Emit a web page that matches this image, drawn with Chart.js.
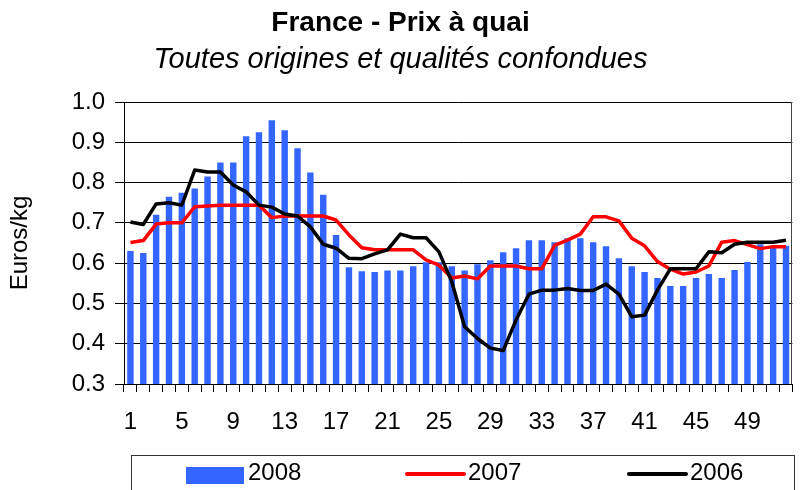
<!DOCTYPE html>
<html>
<head>
<meta charset="utf-8">
<script src="https://cdn.jsdelivr.net/npm/chart.js@4.4.1/dist/chart.umd.min.js"></script>
<style>
  body { margin: 0; background: #fff; }
  canvas { display: block; }
</style>
</head>
<body>
<canvas id="prixChart" width="802" height="490"></canvas>
<script>
const weeks = Array.from({ length: 52 }, (_, i) => i + 1);

const prix2008 = [0.63, 0.625, 0.72, 0.765, 0.775, 0.785, 0.815, 0.85, 0.85, 0.915,
    0.925, 0.955, 0.93, 0.885, 0.825, 0.77, 0.67, 0.59, 0.58, 0.578,
    0.582, 0.582, 0.592, 0.602, 0.602, 0.592, 0.582, 0.597, 0.607, 0.627,
    0.637, 0.657, 0.657, 0.652, 0.662, 0.662, 0.652, 0.642, 0.612, 0.592,
    0.578, 0.563, 0.543, 0.543, 0.563, 0.573, 0.563, 0.583, 0.603, 0.647,
    0.643, 0.643];

const prix2007 = [0.651, 0.656, 0.697, 0.70, 0.70, 0.74, 0.742, 0.744, 0.744, 0.744,
    0.744, 0.713, 0.717, 0.717, 0.717, 0.717, 0.707, 0.67, 0.638, 0.633,
    0.633, 0.633, 0.633, 0.608, 0.595, 0.563, 0.568, 0.561, 0.593, 0.593,
    0.593, 0.586, 0.586, 0.644, 0.657, 0.672, 0.715, 0.715, 0.705, 0.662,
    0.643, 0.604, 0.585, 0.573, 0.578, 0.593, 0.652, 0.656, 0.646, 0.636,
    0.641, 0.641];

const prix2006 = [0.702, 0.696, 0.747, 0.75, 0.744, 0.831, 0.826, 0.826, 0.794, 0.777,
    0.744, 0.739, 0.722, 0.717, 0.69, 0.647, 0.637, 0.612, 0.611, 0.623,
    0.633, 0.672, 0.663, 0.663, 0.628, 0.554, 0.442, 0.413, 0.389, 0.383,
    0.459, 0.523, 0.533, 0.533, 0.537, 0.532, 0.532, 0.548, 0.523, 0.467,
    0.471, 0.533, 0.586, 0.586, 0.586, 0.628, 0.626, 0.647, 0.652, 0.652,
    0.652, 0.657];

const FONT = "'Liberation Sans', Arial, sans-serif";

// boxed legend under the axis, one row
const boxLegend = {
    id: 'boxLegend',
    afterDraw(chart) {
        const ctx = chart.ctx;
        const ds = chart.data.datasets;
        const slots = [186, 406, 628];
        ctx.save();
        ctx.strokeStyle = '#333';
        ctx.lineWidth = 1;
        ctx.strokeRect(131.5, 455.5, 663, 50);
        ctx.font = '24px ' + FONT;
        ctx.fillStyle = '#000';
        ctx.textBaseline = 'alphabetic';
        ds.forEach((d, i) => {
            const x = slots[i];
            if (d.type === 'line') {
                ctx.strokeStyle = d.borderColor;
                ctx.lineWidth = 4;
                ctx.lineCap = 'round';
                ctx.beginPath();
                ctx.moveTo(x + 1, 474);
                ctx.lineTo(x + 58, 474);
                ctx.stroke();
            } else {
                ctx.fillStyle = d.backgroundColor;
                ctx.fillRect(x, 467, 58, 17);
            }
            ctx.fillStyle = '#000';
            ctx.fillText(d.label, x + 62, 480);
        });
        ctx.restore();
    }
};

// right edge of the plot area
const plotEdge = {
    id: 'plotEdge',
    afterDatasetsDraw(chart) {
        const a = chart.chartArea;
        const ctx = chart.ctx;
        ctx.save();
        ctx.strokeStyle = '#444';
        ctx.lineWidth = 1;
        ctx.beginPath();
        ctx.moveTo(Math.round(a.right) - 0.5, a.top);
        ctx.lineTo(Math.round(a.right) - 0.5, a.bottom);
        ctx.stroke();
        ctx.restore();
    }
};

const ctx = document.getElementById('prixChart').getContext('2d');
const prixChart = new Chart(ctx, {
    type: 'bar',
    data: {
        labels: weeks,
        datasets: [{
            type: 'bar',
            label: '2008',
            data: prix2008,
            backgroundColor: '#3366FF',
            barPercentage: 0.5,
            categoryPercentage: 1,
            order: 3
        },
        {
            type: 'line',
            label: '2007',
            data: prix2007,
            borderColor: '#FF0000',
            borderWidth: 3.5,
            pointRadius: 0,
            tension: 0,
            borderJoinStyle: 'round',
            order: 2
        },
        {
            type: 'line',
            label: '2006',
            data: prix2006,
            borderColor: '#000000',
            borderWidth: 3.5,
            pointRadius: 0,
            tension: 0,
            borderJoinStyle: 'round',
            order: 1
        }]
    },
    options: {
        responsive: false,
        animation: false,
        layout: {
            padding: { left: 0, right: 1, top: 0, bottom: 0 }
        },
        plugins: {
            legend: { display: false },
            tooltip: { enabled: false },
            title: {
                display: true,
                text: 'France - Prix à quai',
                color: '#000',
                font: { family: FONT, size: 28, weight: 'bold' },
                padding: { top: 6, bottom: 0 }
            },
            subtitle: {
                display: true,
                text: 'Toutes origines et qualités confondues',
                color: '#000',
                font: { family: FONT, size: 29, style: 'italic' },
                padding: { top: 3, bottom: 24.6 }
            }
        },
        scales: {
            x: {
                afterFit: s => { s.height = 106; },
                grid: {
                    drawOnChartArea: false,
                    drawTicks: true,
                    tickLength: 8,
                    color: '#000',
                    offset: true
                },
                border: { color: '#000' },
                ticks: {
                    autoSkip: false,
                    maxRotation: 0,
                    padding: 16,
                    color: '#000',
                    font: { family: FONT, size: 24 },
                    callback: (v, i) => (i % 4 === 0 ? String(weeks[i]) : '')
                }
            },
            y: {
                min: 0.3,
                max: 1.0,
                afterFit: s => { s.width = 124; },
                title: {
                    display: true,
                    text: 'Euros/kg',
                    color: '#000',
                    font: { family: FONT, size: 24 },
                    padding: { top: 6, bottom: 0 }
                },
                grid: {
                    color: '#000',
                    tickLength: 9
                },
                border: { color: '#000' },
                ticks: {
                    stepSize: 0.1,
                    padding: 10,
                    color: '#000',
                    font: { family: FONT, size: 24 },
                    callback: v => v.toFixed(1)
                }
            }
        }
    },
    plugins: [boxLegend, plotEdge]
});
</script>
</body>
</html>
